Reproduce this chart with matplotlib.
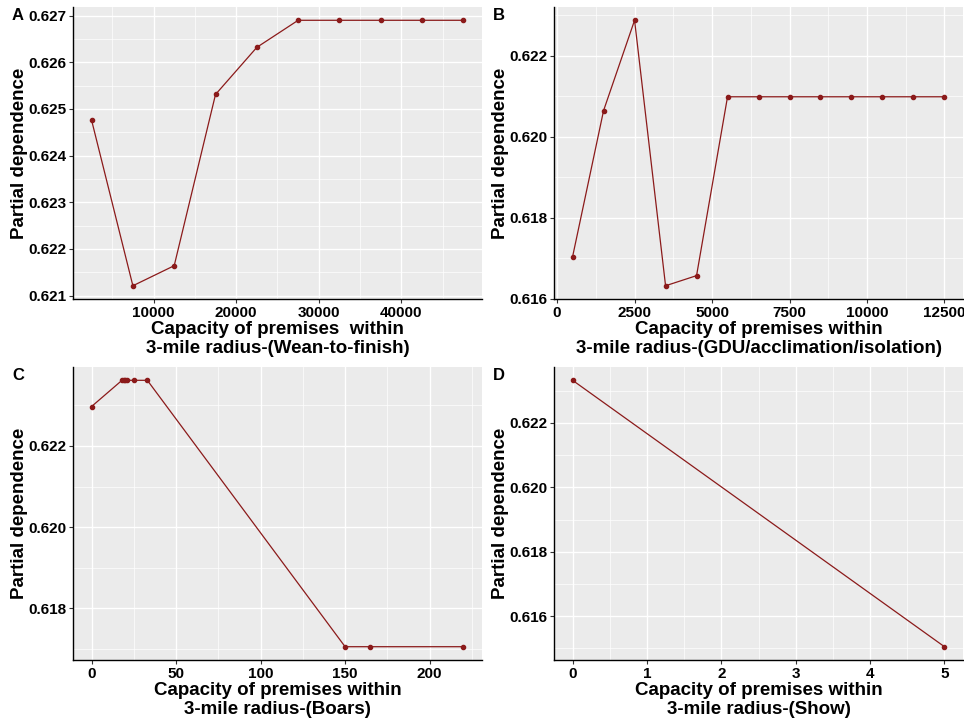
import matplotlib
matplotlib.use("Agg")
import matplotlib.pyplot as plt
from matplotlib.ticker import MultipleLocator, FormatStrFormatter

plt.rcParams['font.family'] = ['Liberation Sans', 'DejaVu Sans']

# panel A: wean-to-finish
a_x = [2500, 7500, 12500, 17500, 22500, 27500, 32500, 37500, 42500, 47500]
a_y = [0.62476, 0.62121, 0.62164, 0.62531, 0.62632, 0.6269, 0.6269, 0.6269, 0.6269, 0.6269]

# panel B: GDU/acclimation/isolation
b_x = [500, 1500, 2500, 3500, 4500, 5500, 6500, 7500, 8500, 9500, 10500, 11500, 12500]
b_y = [0.61704, 0.62065, 0.62288, 0.61632, 0.61657, 0.62099, 0.62099, 0.62099,
       0.62099, 0.62099, 0.62099, 0.62099, 0.62099]

# panel C: boars
c_x = [0, 18, 19, 20, 21, 25, 33, 150, 165, 220]
c_y = [0.62297, 0.623615, 0.623615, 0.623615, 0.623615, 0.623615, 0.623615,
       0.617057, 0.617057, 0.617057]

# panel D: show
d_x = [0, 5]
d_y = [0.623324, 0.61505]

xlabels = ["Capacity of premises  within\n3-mile radius-(Wean-to-finish)",
           "Capacity of premises within\n3-mile radius-(GDU/acclimation/isolation)",
           "Capacity of premises within\n3-mile radius-(Boars)",
           "Capacity of premises within\n3-mile radius-(Show)"]
letters = ["A", "B", "C", "D"]

line_col = "#8B1A1A"

fig = plt.figure(figsize=(9.64, 7.23), dpi=100)

boxes = [
    [0.0757, 0.5864, 0.4243, 0.4039],
    [0.5747, 0.5864, 0.4243, 0.4039],
    [0.0757, 0.0871, 0.4243, 0.4053],
    [0.5747, 0.0871, 0.4243, 0.4053],
]
data = [(a_x, a_y), (b_x, b_y), (c_x, c_y), (d_x, d_y)]
# major / minor tick steps (x, y)
steps = [
    ((10000, 5000), (0.001, 0.0005)),
    ((2500, 1250), (0.002, 0.001)),
    ((50, 25), (0.002, 0.001)),
    ((1, 0.5), (0.002, 0.001)),
]

for i in range(4):
    ax = fig.add_axes(boxes[i])
    xs, ys = data[i]
    ax.set_facecolor("#EBEBEB")
    ax.plot(xs, ys, color=line_col, lw=0.9, marker="o", ms=3.0, zorder=3)

    # ggplot-style 5% expansion
    xr = max(xs) - min(xs)
    yr = max(ys) - min(ys)
    ax.set_xlim(min(xs) - 0.05 * xr, max(xs) + 0.05 * xr)
    ax.set_ylim(min(ys) - 0.05 * yr, max(ys) + 0.05 * yr)

    (xmaj, xmin), (ymaj, ymin) = steps[i]
    ax.xaxis.set_major_locator(MultipleLocator(xmaj))
    ax.xaxis.set_minor_locator(MultipleLocator(xmin))
    ax.yaxis.set_major_locator(MultipleLocator(ymaj))
    ax.yaxis.set_minor_locator(MultipleLocator(ymin))
    ax.xaxis.set_major_formatter(FormatStrFormatter("%d"))
    ax.yaxis.set_major_formatter(FormatStrFormatter("%.3f"))

    ax.grid(which="major", color="white", lw=1.0)
    ax.grid(which="minor", color="white", lw=0.5)
    ax.set_axisbelow(True)

    for s in ["top", "right"]:
        ax.spines[s].set_visible(False)
    for s in ["left", "bottom"]:
        ax.spines[s].set_color("black")
        ax.spines[s].set_linewidth(1.0)

    ax.tick_params(which="major", length=3, color="#333333", width=0.8,
                   labelsize=11, labelcolor="black", pad=2)
    ax.tick_params(which="minor", length=0)
    for lab in ax.get_xticklabels() + ax.get_yticklabels():
        lab.set_fontweight("bold")

    ax.set_xlabel(xlabels[i], fontsize=13.5, fontweight="bold", labelpad=1,
                  linespacing=1.1)
    ax.set_ylabel("Partial dependence", fontsize=13.5, fontweight="bold", labelpad=0)

    fig.text(boxes[i][0] - 0.057, boxes[i][1] + boxes[i][3] - 0.012, letters[i],
             fontsize=12, fontweight="bold", ha="center", va="center")

fig.savefig("out.png", dpi=100)
